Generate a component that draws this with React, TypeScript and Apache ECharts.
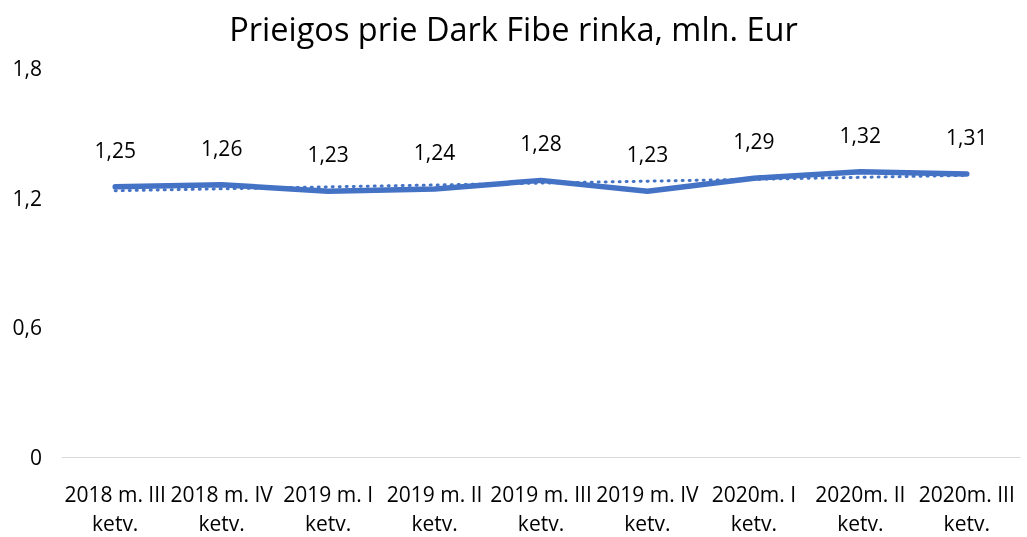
import React, { useEffect, useRef } from "react";
import * as echarts from "echarts";

const categories = [
  "2018 m. III\nketv.",
  "2018 m. IV\nketv.",
  "2019 m. I\nketv.",
  "2019 m. II\nketv.",
  "2019 m. III\nketv.",
  "2019 m. IV\nketv.",
  "2020m. I\nketv.",
  "2020m. II\nketv.",
  "2020m. III\nketv.",
];
const values = [1.25, 1.26, 1.23, 1.24, 1.28, 1.23, 1.29, 1.32, 1.31];
const trendValues = [1.232, null, null, null, null, null, null, null, 1.303];
const yTicks = { min: 0, max: 1.8, interval: 0.6 };
const title = "Prieigos prie Dark Fibe rinka, mln. Eur";

const FONT = "'Open Sans', sans-serif";
const fmt = (v: number) => String(v).replace(".", ",");

export default function App() {
  const ref = useRef<HTMLDivElement>(null);
  useEffect(() => {
    if (!ref.current) return;
    const chart = echarts.init(ref.current, undefined, { renderer: "svg" });
    chart.setOption({
      animation: false,
      title: {
        text: title,
        left: "center",
        top: 7,
        textStyle: { fontFamily: FONT, fontSize: 32.5, fontWeight: "normal", color: "#000" },
      },
      grid: { left: 62, right: 7, top: 68, bottom: 78 },
      xAxis: {
        type: "category",
        data: categories,
        boundaryGap: true,
        axisLine: { lineStyle: { color: "#d9d9d9", width: 1 } },
        axisTick: { show: false },
        axisLabel: {
          interval: 0,
          fontFamily: FONT,
          fontSize: 21,
          color: "#000",
          lineHeight: 29,
          margin: 22,
        },
      },
      yAxis: {
        type: "value",
        min: yTicks.min,
        max: yTicks.max,
        interval: yTicks.interval,
        splitLine: { show: false },
        axisLine: { show: false },
        axisTick: { show: false },
        axisLabel: {
          fontFamily: FONT,
          fontSize: 21,
          color: "#000",
          margin: 20,
          formatter: (v: number) => fmt(Math.round(v * 10) / 10),
        },
      },
      series: [
        {
          type: "line",
          data: trendValues,
          connectNulls: true,
          showSymbol: false,
          symbol: "none",
          lineStyle: { color: "#4472C4", width: 3, type: [1, 6], cap: "round" },
          z: 1,
        },
        {
          type: "line",
          data: values,
          symbol: "circle",
          symbolSize: 1,
          showSymbol: true,
          itemStyle: { color: "#4472C4", opacity: 0 },
          lineStyle: { color: "#4472C4", width: 5.5, cap: "round", join: "round" },
          label: {
            show: true,
            position: "top",
            distance: 26,
            fontFamily: FONT,
            fontSize: 21,
            color: "#000",
            opacity: 1,
            formatter: (p: any) => fmt(p.value),
          },
          z: 2,
        },
      ],
    });
    return () => chart.dispose();
  }, []);
  return (
    <div
      ref={ref}
      style={{ position: "fixed", left: 0, top: 0, width: 1027, height: 537 }}
    />
  );
}
